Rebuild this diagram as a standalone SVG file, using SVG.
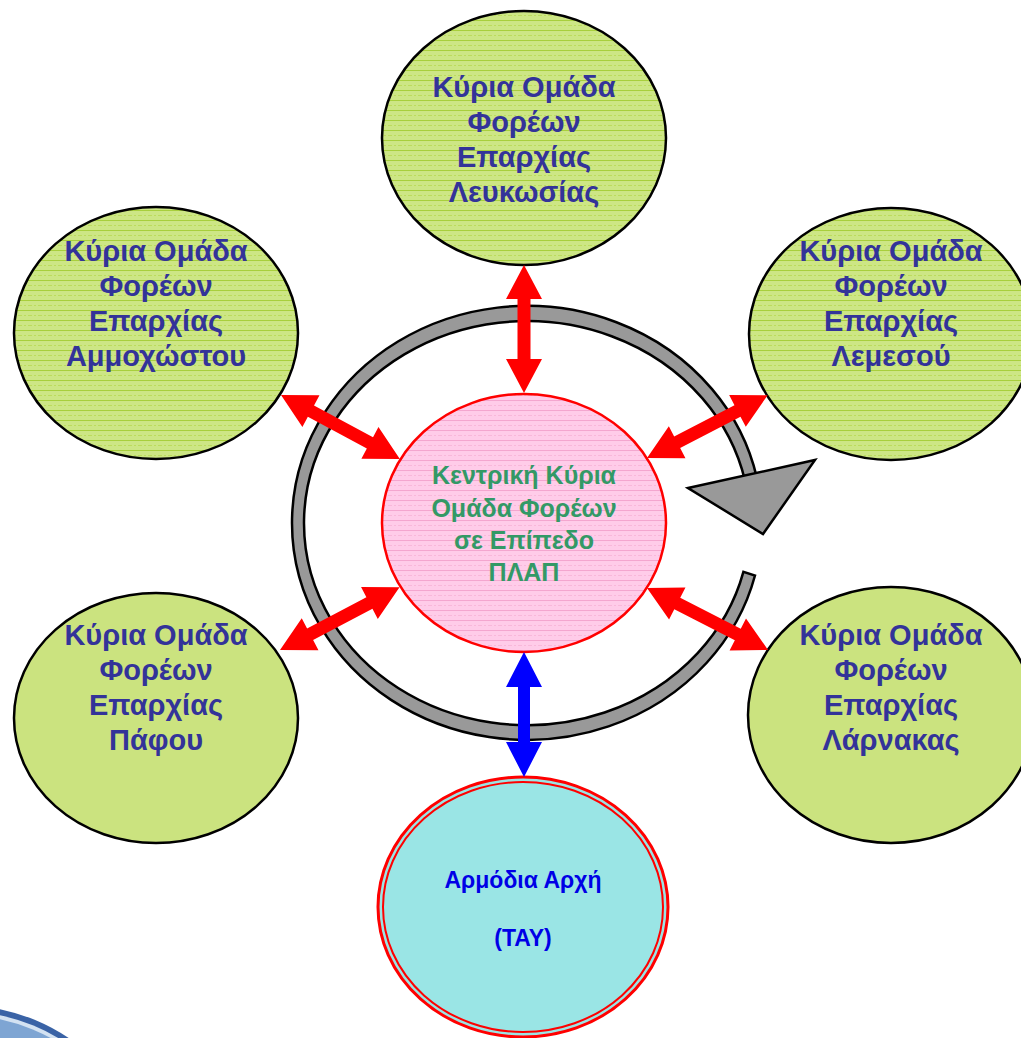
<svg xmlns="http://www.w3.org/2000/svg" width="1021" height="1038" viewBox="0 0 1021 1038">
<defs>
<pattern id="pg" patternUnits="userSpaceOnUse" width="10" height="10">
<rect width="10" height="10" fill="#cde685"/>
<line x1="0" y1="0.5" x2="10" y2="0.5" stroke="#a8cf3c" stroke-width="1"/>
<line x1="0" y1="5.5" x2="10" y2="5.5" stroke="#bcdc5c" stroke-width="1" stroke-dasharray="2 2"/>
</pattern>
<pattern id="pp" patternUnits="userSpaceOnUse" width="10" height="10">
<rect width="10" height="10" fill="#ffcce9"/>
<line x1="0" y1="0.5" x2="10" y2="0.5" stroke="#f4a6cf" stroke-width="1"/>
<line x1="0" y1="5.5" x2="10" y2="5.5" stroke="#f9b8da" stroke-width="1" stroke-dasharray="2 2"/>
</pattern>
<style>
.g{stroke:#000;stroke-width:2.5}
.t{font-family:"Liberation Sans",Arial,sans-serif;font-weight:bold;font-size:29px;fill:#333399;text-anchor:middle}
.c{font-family:"Liberation Sans",Arial,sans-serif;font-weight:bold;font-size:25px;fill:#339966;text-anchor:middle}
.b{font-family:"Liberation Sans",Arial,sans-serif;font-weight:bold;font-size:23px;fill:#0000e6;text-anchor:middle}
.ra{fill:#ff0000}
.ba{fill:#0000ff}
</style>
</defs>
<rect width="1021" height="1038" fill="#ffffff"/>

<g id="corner">
<circle cx="-40" cy="1200" r="195" fill="#3a63a6"/>
<circle cx="-40" cy="1203" r="192" fill="#d3e2f2"/>
<circle cx="-40" cy="1205" r="190" fill="#7ea5d3"/>
</g>

<g id="cycle">
<path d="M755,575.5 A235,217 0 1 1 756.9,477.9 L745.1,481 A223,202 0 1 0 743.4,571.9 Z" fill="#999999" stroke="#000" stroke-width="2.5" stroke-linejoin="miter"/>
<polygon points="688,488 815,460 763,534" fill="#999999" stroke="#000" stroke-width="2.5" stroke-linejoin="miter"/>
</g>

<g id="n-lefkosia">
<ellipse cx="524" cy="138" rx="142" ry="127" fill="url(#pg)" class="g"/>
<text class="t" x="524" y="97">Κύρια Ομάδα</text>
<text class="t" x="524" y="132">Φορέων</text>
<text class="t" x="524" y="167">Επαρχίας</text>
<text class="t" x="524" y="202">Λευκωσίας</text>
</g>

<g id="n-ammochostos">
<ellipse cx="156" cy="333" rx="142" ry="126" fill="url(#pg)" class="g"/>
<text class="t" x="156" y="261">Κύρια Ομάδα</text>
<text class="t" x="156" y="296">Φορέων</text>
<text class="t" x="156" y="331">Επαρχίας</text>
<text class="t" x="156" y="366">Αμμοχώστου</text>
</g>

<g id="n-lemesos">
<ellipse cx="891" cy="334" rx="142" ry="126" fill="url(#pg)" class="g"/>
<text class="t" x="891" y="261">Κύρια Ομάδα</text>
<text class="t" x="891" y="296">Φορέων</text>
<text class="t" x="891" y="331">Επαρχίας</text>
<text class="t" x="891" y="366">Λεμεσού</text>
</g>

<g id="n-pafos">
<ellipse cx="156" cy="718" rx="142" ry="125" fill="#cbe37f" class="g"/>
<text class="t" x="156" y="645">Κύρια Ομάδα</text>
<text class="t" x="156" y="680">Φορέων</text>
<text class="t" x="156" y="715">Επαρχίας</text>
<text class="t" x="156" y="750">Πάφου</text>
</g>

<g id="n-larnaka">
<ellipse cx="891" cy="715" rx="143" ry="128" fill="#cbe37f" class="g"/>
<text class="t" x="891" y="645">Κύρια Ομάδα</text>
<text class="t" x="891" y="680">Φορέων</text>
<text class="t" x="891" y="715">Επαρχίας</text>
<text class="t" x="891" y="750">Λάρνακας</text>
</g>

<g id="n-central">
<ellipse cx="524" cy="523" rx="142" ry="129" fill="url(#pp)" stroke="#ff0000" stroke-width="2.5"/>
<text class="c" x="524" y="484">Κεντρική Κύρια</text>
<text class="c" x="524" y="516.5">Ομάδα Φορέων</text>
<text class="c" x="524" y="549">σε Επίπεδο</text>
<text class="c" x="524" y="581">ΠΛΑΠ</text>
</g>

<g id="n-tay">
<ellipse cx="523" cy="907" rx="145" ry="130" fill="#9ae5e5" stroke="#ff0000" stroke-width="3"/>
<ellipse cx="523" cy="907" rx="140" ry="125" fill="none" stroke="#ff0000" stroke-width="2"/>
<text class="b" x="523" y="888">Αρμόδια Αρχή</text>
<text class="b" x="523" y="946">(ΤΑΥ)</text>
</g>

<g id="connectors">
<polygon class="ra" transform="translate(524,265) rotate(90)" points="0,0 34,-18 34,-6.5 94,-6.5 94,-18 128,0 94,18 94,6.5 34,6.5 34,18"/>
<polygon class="ra" transform="translate(281,395) rotate(28.3)" points="0,0 34,-18 34,-6.5 101,-6.5 101,-18 135,0 101,18 101,6.5 34,6.5 34,18"/>
<polygon class="ra" transform="translate(647,458) rotate(-27.5)" points="0,0 34,-18 34,-6.5 102,-6.5 102,-18 136,0 102,18 102,6.5 34,6.5 34,18"/>
<polygon class="ra" transform="translate(280,650) rotate(-27.7)" points="0,0 34,-18 34,-6.5 101,-6.5 101,-18 135,0 101,18 101,6.5 34,6.5 34,18"/>
<polygon class="ra" transform="translate(647,588) rotate(27.1)" points="0,0 34,-18 34,-6.5 102,-6.5 102,-18 136,0 102,18 102,6.5 34,6.5 34,18"/>
<polygon class="ba" transform="translate(524,652) rotate(90)" points="0,0 35,-18 35,-6 90,-6 90,-18 125,0 90,18 90,6 35,6 35,18"/>
</g>
</svg>
